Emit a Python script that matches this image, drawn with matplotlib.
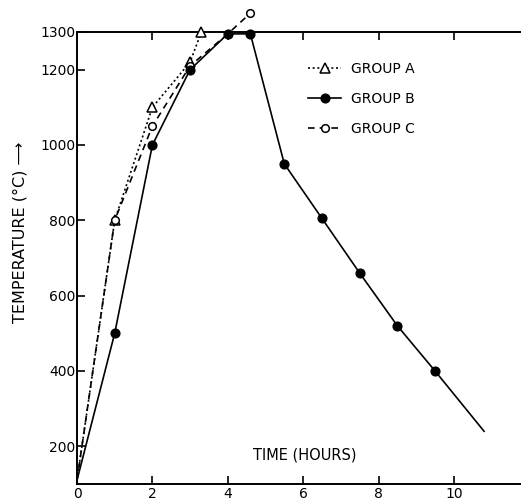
import numpy as np
import matplotlib
matplotlib.use("Agg")
import matplotlib.pyplot as plt
from matplotlib.legend_handler import HandlerLine2D

# values (time in hours, temperature in deg C)
time_a = [0, 1, 2, 3, 3.3]
temp_a = [110, 800, 1100, 1220, 1300]

time_b = [0, 1, 2, 3, 4, 4.6, 5.5, 6.5, 7.5, 8.5, 9.5]
temp_b = [110, 500, 1000, 1200, 1295, 1295, 950, 805, 660, 520, 400]
# the cooling line of group B runs on past the last point
time_b_tail = [9.5, 10.8]
temp_b_tail = [400, 240]

time_c = [0, 1, 2, 3, 4, 4.6]
temp_c = [110, 800, 1050, 1210, 1295, 1350]

x_ticks = [0, 2, 4, 6, 8, 10]
y_ticks = [200, 400, 600, 800, 1000, 1200, 1300]


class EndMarker(HandlerLine2D):
    # legend key: line first, marker sitting at its right end
    def get_xdata(self, legend, xdescent, ydescent, width, height, fontsize):
        xd = np.array([-xdescent, -xdescent + width])
        return xd, np.array([-xdescent + width])


plt.rcParams['font.family'] = ['DejaVu Sans']
fig = plt.figure(figsize=(5.21, 5.0), dpi=100)
ax = fig.add_axes([77 / 521, 1 - 484 / 500, 1 - 77 / 521, (484 - 32) / 500])

lw = 1.2
skip0 = slice(1, None)  # no symbol at the common starting point
la, = ax.plot(time_a, temp_a, color='black', lw=lw, ls=(0, (1.2, 1.6)),
              marker='^', ms=6.5, mfc='white', mec='black', mew=1.1,
              markevery=skip0, clip_on=False, zorder=3, label='GROUP A')
ax.plot(time_b_tail, temp_b_tail, color='black', lw=lw, zorder=2)
lb, = ax.plot(time_b, temp_b, color='black', lw=lw, ls='-',
              marker='o', ms=6.3, mfc='black', mec='black',
              markevery=skip0, clip_on=False, zorder=4, label='GROUP B')
lc, = ax.plot(time_c, temp_c, color='black', lw=lw, ls=(0, (4, 3)),
              marker='o', ms=5.5, mfc='white', mec='black', mew=1.1,
              markevery=skip0, clip_on=False, zorder=3, label='GROUP C')

ax.set_xlim(0, 11.78)
ax.set_ylim(100, 1300)
ax.set_xticks(x_ticks)
ax.set_yticks(y_ticks)
ax.spines['right'].set_visible(False)
for s in ['left', 'bottom', 'top']:
    ax.spines[s].set_linewidth(1.4)
ax.tick_params(axis='both', direction='in', length=6, width=1.2,
               labelsize=10, pad=2, top=True)
ax.tick_params(axis='y', pad=1)

ax.text(0.514, 0.064, 'TIME (HOURS)', transform=ax.transAxes,
        ha='center', va='center', fontsize=10.5)
fig.text(20 / 521, 1 - 232 / 500, 'TEMPERATURE (°C) \u27f6', rotation=90,
         ha='center', va='center', fontsize=11.5)

ax.legend(handles=[la, lb, lc], handler_map={matplotlib.lines.Line2D: EndMarker()},
          frameon=False, loc='upper left', bbox_to_anchor=(308 / 521, 1 - 62 / 500),
          bbox_transform=fig.transFigure, borderaxespad=0, borderpad=0,
          handlelength=2.4, handletextpad=0.7, labelspacing=1.15, fontsize=10)

fig.savefig('out.png', dpi=100)
